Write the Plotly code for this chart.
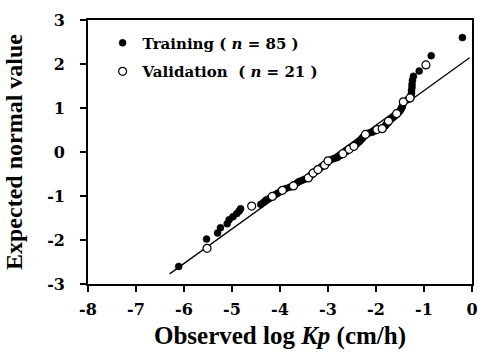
import plotly.graph_objects as go

# ---- data ----
train_x = [-6.11, -5.53, -5.30, -5.24, -5.10, -5.06, -4.98, -4.90, -4.85, -4.82,
           -4.40, -4.34, -4.29, -4.22, -4.10, -4.05, -3.99, -3.88, -3.80,
           -3.69, -3.64, -3.60, -3.55, -3.49, -3.38, -3.36, -3.33, -3.28, -3.24,
           -3.18, -3.15, -3.12, -3.05, -3.02, -3.01, -2.95, -2.88, -2.82, -2.79,
           -2.75, -2.72, -2.66, -2.62, -2.59, -2.53, -2.49, -2.44, -2.41, -2.39,
           -2.36, -2.34, -2.32, -2.30, -2.28, -2.26, -2.24, -2.15, -2.08, -2.03,
           -1.84, -1.81, -1.79, -1.77, -1.75, -1.70, -1.66, -1.63, -1.60, -1.53,
           -1.50, -1.48, -1.46, -1.45, -1.44, -1.34, -1.27, -1.26, -1.26, -1.25,
           -1.25, -1.24, -1.22, -1.10, -0.85, -0.20]
train_y = [-2.60, -1.98, -1.84, -1.72, -1.63, -1.54, -1.47, -1.40, -1.34, -1.29,
           -1.19, -1.14, -1.09, -1.05, -0.97, -0.94, -0.90, -0.83, -0.80,
           -0.74, -0.70, -0.67, -0.65, -0.62, -0.56, -0.53, -0.51, -0.45, -0.43,
           -0.37, -0.35, -0.32, -0.27, -0.25, -0.23, -0.18, -0.15, -0.13, -0.11,
           -0.08, -0.06, -0.01, 0.01, 0.04, 0.08, 0.11, 0.15, 0.18, 0.20,
           0.23, 0.25, 0.27, 0.30, 0.32, 0.35, 0.37, 0.43, 0.45, 0.48,
           0.56, 0.59, 0.62, 0.65, 0.67, 0.74, 0.77, 0.80, 0.83, 0.90,
           0.94, 0.97, 1.01, 1.05, 1.09, 1.19, 1.29, 1.34, 1.40, 1.47,
           1.54, 1.63, 1.72, 1.84, 2.19, 2.60]

valid_x = [-5.52, -4.59, -4.16, -3.95, -3.72, -3.41, -3.31, -3.21, -3.07, -3.00,
           -2.69, -2.56, -2.46, -2.22, -1.98, -1.87, -1.74, -1.57, -1.43, -1.29,
           -0.96]
valid_y = [-2.19, -1.23, -1.01, -0.87, -0.77, -0.59, -0.48, -0.40, -0.30, -0.20,
           -0.04, 0.06, 0.13, 0.40, 0.51, 0.53, 0.70, 0.87, 1.14, 1.23,
           1.98]

fit_x = [-6.30, -0.05]
fit_y = [-2.77, 2.14]

x_ticks = [-8, -7, -6, -5, -4, -3, -2, -1, 0]
x_ticktext = ["-8", "-7", "-6", "-5", "-4", "-3", "-2", "-1", "0"]
y_ticks = [-3, -2, -1, 0, 1, 2, 3]
y_ticktext = ["-3", "-2", "-1", "0", "1", "2", "3"]

TITLEFONT = "Liberation Serif"
SMALLFONT = "DejaVu Serif"
TICKFONT = dict(family=SMALLFONT, size=16, color="black", weight="bold")
LEGENDFONT = dict(family=SMALLFONT, size=15, color="black", weight="bold")

fig = go.Figure()
fig.add_trace(go.Scatter(
    x=fit_x, y=fit_y, mode="lines", line=dict(color="black", width=1.3),
    showlegend=False, hoverinfo="skip"))
fig.add_trace(go.Scatter(
    x=train_x, y=train_y, mode="markers", legendgroup="train",
    name="Training ( <i>n</i> = 85 )",
    marker=dict(symbol="circle", size=7, color="black",
                line=dict(color="black", width=0.5))))
fig.add_trace(go.Scatter(
    x=valid_x, y=valid_y, mode="markers", legendgroup="valid",
    name="Validation  ( <i>n</i> = 21 )",
    marker=dict(symbol="circle", size=8, color="white",
                line=dict(color="black", width=1.2))))

axis_common = dict(
    showline=True, linecolor="black", linewidth=1.6, mirror=True,
    ticks="outside", ticklen=6, tickwidth=1.6, tickcolor="black",
    showgrid=False, zeroline=False,
    tickfont=TICKFONT,
)

fig.update_xaxes(
    range=[-8, 0], tickvals=x_ticks, ticktext=x_ticktext,
    ticklabelstandoff=4,
    title=dict(text="Observed log <i>Kp</i> (cm/h)", standoff=8,
               font=dict(family=TITLEFONT, size=25, color="black", weight="bold")),
    **axis_common)
fig.update_yaxes(
    range=[-3, 3], tickvals=y_ticks, ticktext=y_ticktext,
    ticklabelstandoff=12,
    title=dict(text="Expected normal value", standoff=18,
               font=dict(family=TITLEFONT, size=24, color="black", weight="bold")),
    **axis_common)

fig.update_layout(
    width=483, height=354,
    margin=dict(l=88, r=5, t=20, b=70),
    paper_bgcolor="white", plot_bgcolor="white",
    font=dict(family=TITLEFONT, color="black"),
    legend=dict(x=0.038, y=0.975, xanchor="left", yanchor="top",
                bgcolor="rgba(0,0,0,0)", borderwidth=0,
                itemwidth=30, tracegroupgap=6,
                font=LEGENDFONT),
)

fig.write_html("out.html")
